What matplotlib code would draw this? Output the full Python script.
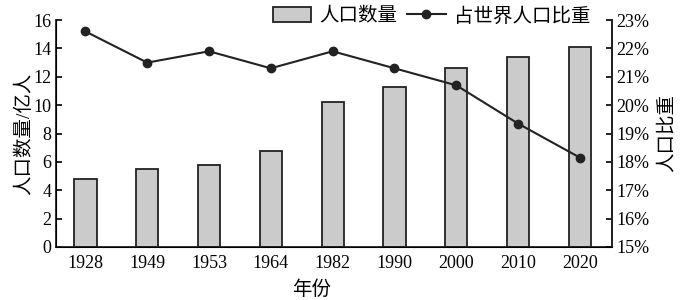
import matplotlib
matplotlib.use("Agg")
import matplotlib.pyplot as plt
from matplotlib.ticker import FuncFormatter

years = ["1928", "1949", "1953", "1964", "1982", "1990", "2000", "2010", "2020"]
population = [4.8, 5.5, 5.8, 6.8, 10.2, 11.3, 12.6, 13.4, 14.1]
share = [22.6, 21.5, 21.9, 21.3, 21.9, 21.3, 20.7, 19.35, 18.15]

plt.rcParams['font.family'] = ['Liberation Serif', 'Noto Sans CJK SC']
plt.rcParams['font.size'] = 13

fig = plt.figure(figsize=(6.8, 3.0), dpi=100)
ax = fig.add_axes([0.082, 0.177, 0.818, 0.756])
x = list(range(len(years)))

bars = ax.bar(x, population, width=0.36, color='#cbcbcb', edgecolor='#222222',
              linewidth=1.3, label='人口数量', zorder=2)
ax.set_xlim(-0.48, 8.52)
ax.set_ylim(0, 16)
ax.set_yticks(range(0, 17, 2))
ax.set_xticks(x)
ax.set_xticklabels(years)
ax.tick_params(axis='x', length=0, pad=6)
ax.tick_params(axis='y', direction='in', length=4, width=1.2, pad=3)
ax.spines['top'].set_visible(False)
for s in ['left', 'bottom', 'right']:
    ax.spines[s].set_linewidth(1.3)
    ax.spines[s].set_color('#222222')
ax.set_ylabel('人口数量/亿人', fontsize=14, labelpad=0)
ax.set_xlabel('年份', fontsize=14)
ax.xaxis.set_label_coords(0.46, -0.15)

ax2 = ax.twinx()
line, = ax2.plot(x, share, color='#222222', linewidth=1.5, marker='o',
                 markersize=6, label='占世界人口比重', zorder=3)
ax2.set_ylim(15, 23)
ax2.set_yticks(range(15, 24))
ax2.yaxis.set_major_formatter(FuncFormatter(lambda v, p: f"{int(v)}%"))
ax2.tick_params(axis='y', direction='in', length=4, width=1.2, pad=3)
ax2.spines['top'].set_visible(False)
ax2.spines['right'].set_linewidth(1.3)
ax2.spines['right'].set_color('#222222')
ax2.set_ylabel('人口比重', fontsize=14, rotation=90, labelpad=6)

fig.legend([bars, line], ['人口数量', '占世界人口比重'], loc='upper left',
           bbox_to_anchor=(0.375, 1.035), ncol=2, frameon=False, fontsize=14,
           handlelength=2.0, handleheight=0.8, columnspacing=0.5, handletextpad=0.4)

fig.savefig('out.png', dpi=100)
